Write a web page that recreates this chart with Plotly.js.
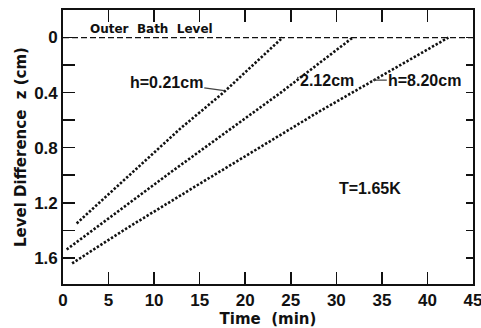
<!DOCTYPE html>
<html>
<head>
<meta charset="utf-8">
<script src="https://cdn.plot.ly/plotly-3.0.1.min.js"></script>
<style>html,body{margin:0;padding:0;background:#fff;}#chart{width:481px;height:328px;}</style>
</head>
<body>
<div id="chart"></div>
<script>
// Data
const time_h021 = [1.5, 12.9, 17.6, 24.1];
const z_h021    = [1.35, 0.66, 0.40, 0.0];
const time_h212 = [0.4, 11.9, 23.9, 31.8];
const z_h212    = [1.54, 0.975, 0.40, 0.0];
const time_h820 = [1.0, 7.0, 15.05, 28.05, 42.3];
const z_h820    = [1.64, 1.385, 1.06, 0.54, 0.0];
const bathTime  = [0, 45];
const bathLevel = [0, 0];
const xTicks = [0, 5, 10, 15, 20, 25, 30, 35, 40, 45];
const yTicks = [0, 0.2, 0.4, 0.6, 0.8, 1.0, 1.2, 1.4, 1.6];
const yTickText = ['0', '', '0.4', '', '0.8', '', '1.2', '', '1.6'];

const FONT = 'Liberation Sans, Arial, sans-serif';
const WIDE = 'DejaVu Sans, sans-serif';
const dotLine = {color: '#111', width: 2.6, dash: '2.4px,1.8px'};

const traces = [
  {x: bathTime, y: bathLevel, mode: 'lines', line: {color: '#111', width: 1.2, dash: '6px,3px'}, hoverinfo: 'skip'},
  {x: time_h021, y: z_h021, mode: 'lines', line: dotLine},
  {x: time_h212, y: z_h212, mode: 'lines', line: dotLine},
  {x: time_h820, y: z_h820, mode: 'lines', line: dotLine},
  {x: bathTime, y: bathLevel, yaxis: 'y2', mode: 'lines', line: {width: 0}, hoverinfo: 'skip'}
];

const layout = {
  width: 481, height: 328,
  margin: {l: 63, r: 8, t: 10, b: 44},
  paper_bgcolor: '#fff', plot_bgcolor: '#fff',
  showlegend: false,
  font: {family: FONT, color: '#111', size: 16, weight: 'bold'},
  xaxis: {
    range: [0, 45], tickvals: xTicks, ticktext: xTicks.map(String),
    ticks: 'inside', ticklen: 12, tickwidth: 1.5, tickcolor: '#111',
    showline: true, linewidth: 1.8, linecolor: '#111', mirror: 'ticks',
    showgrid: false, zeroline: false, ticklabeloverflow: 'allow',
    tickfont: {family: FONT, size: 17, weight: 'bold'},
    title: {text: 'Time  (min)', font: {family: WIDE, size: 15, weight: 'bold'}, standoff: 1}
  },
  yaxis: {
    range: [1.79, -0.2], tickvals: yTicks, ticktext: yTickText,
    ticks: 'inside', ticklen: 12, tickwidth: 1.5, tickcolor: '#111',
    showline: true, linewidth: 1.8, linecolor: '#111', mirror: true,
    showgrid: false, zeroline: false,
    tickfont: {family: FONT, size: 17, weight: 'bold'},
    title: {text: 'Level Difference  z (cm)', font: {family: WIDE, size: 15, weight: 'bold'}, standoff: 4}
  },
  yaxis2: {
    range: [1.79, -0.2], overlaying: 'y', side: 'right', anchor: 'x',
    tickvals: yTicks, showticklabels: false,
    ticks: 'inside', ticklen: 7, tickwidth: 1.5, tickcolor: '#111',
    showline: false, showgrid: false, zeroline: false
  },
  annotations: [
    {x: 9.7, y: -0.065, xref: 'x', yref: 'y', text: 'Outer  Bath  Level', showarrow: false,
     font: {family: WIDE, size: 12, weight: 'bold'}},
    {x: 17.7, y: 0.385, xref: 'x', yref: 'y', text: 'h=0.21cm', showarrow: true, arrowhead: 0,
     arrowwidth: 1.3, ax: -58, ay: -8, font: {family: FONT, size: 16, weight: 'bold'}},
    {x: 25.7, y: 0.29, xref: 'x', yref: 'y', text: '2.12cm', showarrow: true, arrowhead: 0,
     arrowwidth: 1.3, ax: 30, ay: 3, font: {family: FONT, size: 16, weight: 'bold'}},
    {x: 34.0, y: 0.31, xref: 'x', yref: 'y', text: 'h=8.20cm', showarrow: true, arrowhead: 0,
     arrowwidth: 1.3, ax: 52, ay: 0, font: {family: FONT, size: 16, weight: 'bold'}},
    {x: 33.7, y: 1.1, xref: 'x', yref: 'y', text: 'T=1.65K', showarrow: false,
     font: {family: FONT, size: 16, weight: 'bold'}}
  ]
};

Plotly.newPlot('chart', traces, layout, {staticPlot: true, displayModeBar: false});
</script>
</body>
</html>
